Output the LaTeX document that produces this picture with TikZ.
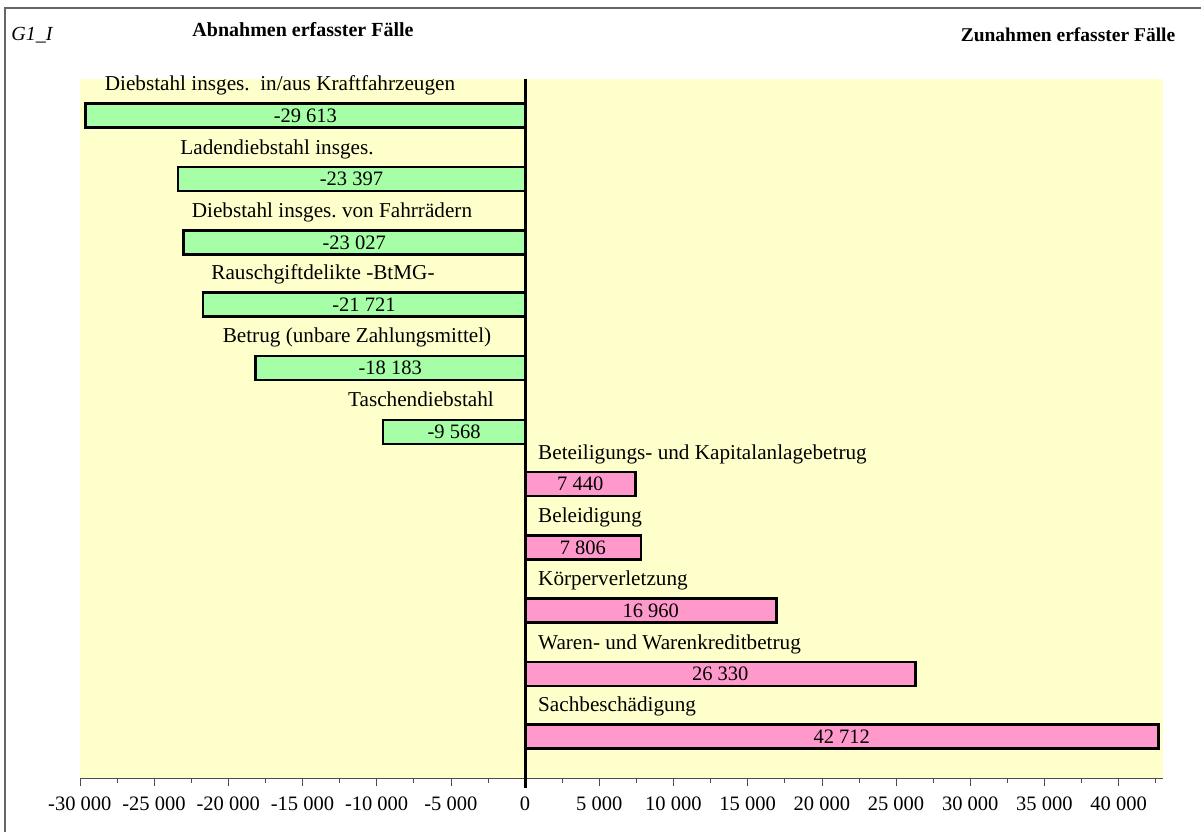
\documentclass[tikz,border=0pt]{standalone}
\usepackage{fontspec}
\setmainfont{Liberation Serif}
\usepackage{xcolor}
\usetikzlibrary{positioning}

\definecolor{plotbg}{HTML}{FFFFCC}
\definecolor{decgreen}{HTML}{A6FFA6}
\definecolor{incpink}{HTML}{FF99CC}
\newcommand{\lblfont}{\fontsize{20.5}{24}\selectfont}
\newcommand{\catfont}{\fontsize{21.2}{24}\selectfont}
\frenchspacing

\begin{document}
\begin{tikzpicture}[x=1pt, y=-1pt,
	decbar/.style={draw=black, line width=2.5pt, fill=decgreen, minimum height=24pt,
		inner sep=0pt, outer sep=0pt, anchor=east, font=\lblfont},
	incbar/.style={draw=black, line width=2.5pt, fill=incpink, minimum height=24pt,
		inner sep=0pt, outer sep=0pt, anchor=west, font=\lblfont},
	catlabel/.style={font=\catfont, inner sep=0pt, anchor=base},
	ticklabel/.style={font=\lblfont, inner sep=0pt, anchor=base},
	headline/.style={font=\fontsize{20}{24}\selectfont\bfseries, inner sep=0pt, anchor=base}]
	\useasboundingbox (0,0) rectangle (1201,832);
	% frame and plot area
	\draw[black!60, line width=1.2pt] (5,832) -- (5,8) -- (1201,8);
	\fill[plotbg] (80,79) rectangle (1163,778);
	% headings
	\node[font=\fontsize{20}{24}\selectfont\itshape, inner sep=0pt, anchor=base] (tag) at (32,41) {G1\_I};
	\node[headline] (tdec) at (303,37) {Abnahmen erfasster Fälle};
	\node[headline, font=\fontsize{19.5}{24}\selectfont\bfseries] (tinc) at (1068,42) {Zunahmen erfasster Fälle};
	% decreasing cases
	\node[decbar, minimum width=439.3pt] (b1) at (525,115.5) {-29 613};
	\node[decbar, minimum width=347.0pt] (b2) at (525,179) {-23 397};
	\node[decbar, minimum width=341.6pt] (b3) at (525,242.5) {-23 027};
	\node[decbar, minimum width=322.2pt] (b4) at (525,304.5) {-21 721};
	\node[decbar, minimum width=269.7pt] (b5) at (525,368) {-18 183};
	\node[decbar, minimum width=141.9pt] (b6) at (525,432) {-9 568};
	\node[catlabel] (l1) at (280,90.5) {Diebstahl insges.\ \ in/aus Kraftfahrzeugen};
	\node[catlabel] (l2) at (277,154) {Ladendiebstahl insges.};
	\node[catlabel] (l3) at (332,217) {Diebstahl insges. von Fahrrädern};
	\node[catlabel] (l4) at (323,279) {Rauschgiftdelikte -BtMG-};
	\node[catlabel] (l5) at (357,342) {Betrug (unbare Zahlungsmittel)};
	\node[catlabel] (l6) at (421,406) {Taschendiebstahl};
	% increasing cases
	\node[incbar, minimum width=110.4pt] (b7) at (525,484) {7 440};
	\node[incbar, minimum width=115.8pt] (b8) at (525,547.5) {7 806};
	\node[incbar, minimum width=251.6pt] (b9) at (525,610.5) {16 960};
	\node[incbar, minimum width=390.6pt] (b10) at (525,674) {26 330};
	\node[incbar, minimum width=633.6pt] (b11) at (525,736.5) {42 712};
	\node[catlabel, anchor=base west] (l7) at (538,459) {Beteiligungs- und Kapitalanlagebetrug};
	\node[catlabel, anchor=base west] (l8) at (538,522) {Beleidigung};
	\node[catlabel, anchor=base west] (l9) at (538,585) {Körperverletzung};
	\node[catlabel, anchor=base west] (l10) at (538,649) {Waren- und Warenkreditbetrug};
	\node[catlabel, anchor=base west] (l11) at (538,711) {Sachbeschädigung};
	% value axis
	\coordinate (axL) at (80,778);
	\coordinate (axR) at (1163,778);
	\draw[black!70, line width=1pt] (axL) -- (axR);
	\foreach \k in {0,...,29} {
		\pgfmathsetmacro{\xx}{80+\k*37.1}
		\ifodd\k
			\draw[black!70, line width=1pt] (\xx,778) -- (\xx,783);
		\else
			\draw[black!70, line width=1pt] (\xx,778) -- (\xx,786);
		\fi
	}
	\foreach \v/\t in {-30/-30 000,-25/-25 000,-20/-20 000,-15/-15 000,-10/-10 000,-5/-5 000,0/0,
		5/5 000,10/10 000,15/15 000,20/20 000,25/25 000,30/30 000,35/35 000,40/40 000}
		\node[ticklabel] at (525+\v*14.84,810) {\t};
	% zero line
	\coordinate (zTop) at (525,79);
	\coordinate (zBot) at (525,788);
	\draw[black, line width=3pt] (zTop) -- (zBot);
\end{tikzpicture}
\end{document}
